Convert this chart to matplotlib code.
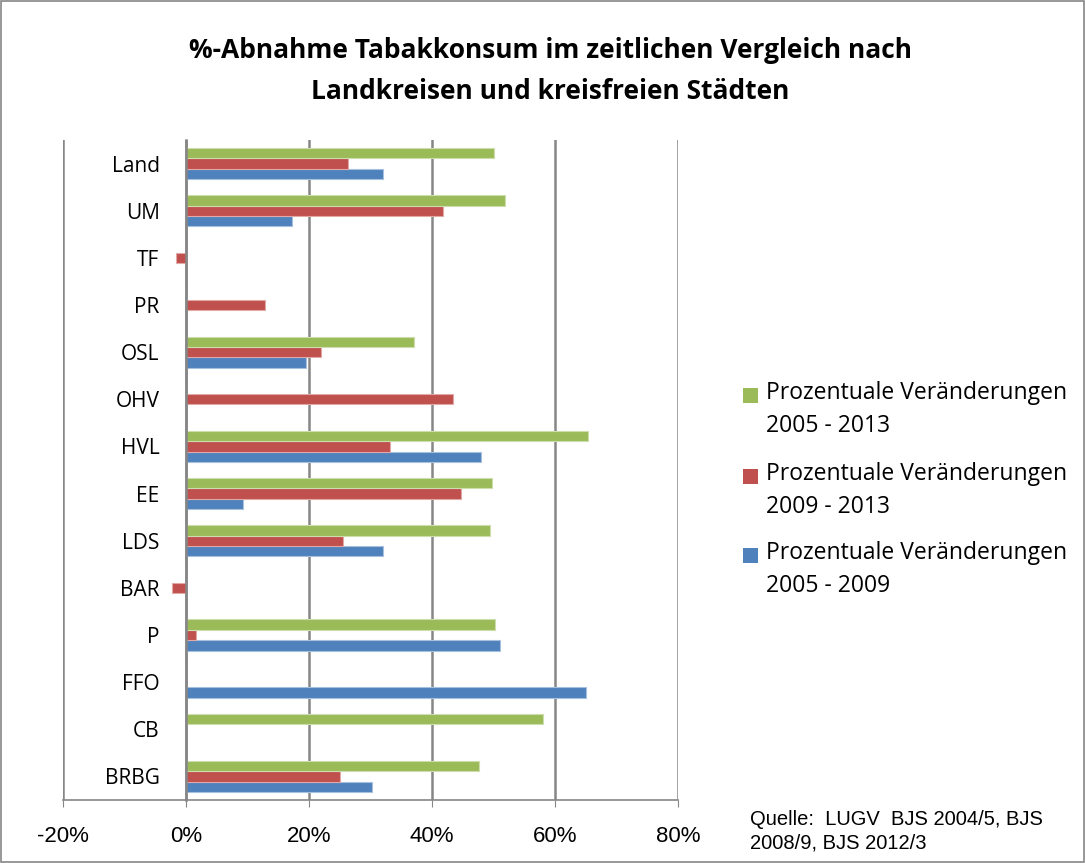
import numpy as np
import matplotlib
matplotlib.use("Agg")
from matplotlib import pyplot as plt
from matplotlib.patches import Rectangle
from matplotlib.ticker import FuncFormatter

# categories from bottom to top
regions = ["BRBG", "CB", "FFO", "P", "BAR", "LDS", "EE", "HVL", "OHV", "OSL", "PR", "TF", "UM", "Land"]

# percent change, NaN = no value
chg_05_09 = [30.2, np.nan, 65.1, 51.1, np.nan, 32.1, 9.2, 48.0, np.nan, 19.5, np.nan, np.nan, 17.3, 32.1]
chg_09_13 = [25.1, np.nan, np.nan, 1.6, -2.3, 25.5, 44.7, 33.2, 43.4, 21.9, 12.8, -1.7, 41.8, 26.3]
chg_05_13 = [47.7, 58.0, np.nan, 50.3, np.nan, 49.4, 49.8, 65.3, np.nan, 37.1, np.nan, np.nan, 51.9, 50.0]

labels = ["Prozentuale Veränderungen\n2005 - 2009",
          "Prozentuale Veränderungen\n2009 - 2013",
          "Prozentuale Veränderungen\n2005 - 2013"]
colors = ["#4F81BD", "#C0504D", "#9BBB59"]
edges = ["#A7C0DE", "#E0A8A6", "#CDDDAC"]

plt.rcParams['font.family'] = ['Open Sans', 'DejaVu Sans']

W, H = 1085, 863
fig = plt.figure(figsize=(W / 100, H / 100), dpi=100)
ax = fig.add_axes([63 / W, 1 - 800 / H, 615 / W, 660 / H])

y = np.arange(len(regions))
h = 0.22
for i, (vals, c, ec, lab) in enumerate(zip([chg_05_09, chg_09_13, chg_05_13], colors, edges, labels)):
    ax.barh(y + (i - 1) * h, np.nan_to_num(vals), height=h, color=c,
            edgecolor=ec, linewidth=0.8, label=lab, zorder=3)

ax.set_xlim(-20, 80)
ax.set_ylim(-0.5, len(regions) - 0.5)
ax.set_xticks(np.arange(-20, 81, 20))
ax.xaxis.set_major_formatter(FuncFormatter(lambda v, p: f"{v:.0f}%"))
ax.set_yticks(y)
ax.set_yticklabels(regions)

ax.grid(axis="x", color="#868686", linewidth=1.8, zorder=1)
for s in ["top", "right"]:
    ax.spines[s].set_visible(False)
ax.spines["left"].set_position(("data", 0))
ax.spines["left"].set_color("#868686")
ax.spines["left"].set_linewidth(1.8)
ax.spines["left"].set_zorder(4)
ax.spines["bottom"].set_color("#868686")
ax.spines["bottom"].set_linewidth(1.2)

ax.tick_params(axis="x", length=5, color="#868686", pad=14, labelsize=16)
for t in ax.get_xticklabels():
    t.set_family(["Liberation Sans", "DejaVu Sans"])
ax.tick_params(axis="y", length=0, pad=19, labelsize=15)

fig.text(0.507, 1 - 71 / H, "%-Abnahme Tabakkonsum im zeitlichen Vergleich nach\nLandkreisen und kreisfreien Städten",
         ha="center", va="center", fontsize=19, fontweight="bold", linespacing=1.65)

# legend, top entry = last series
handles, hl = ax.get_legend_handles_labels()
ytops = [388, 469, 548]
for (hnd, lab), yt in zip(list(zip(handles, hl))[::-1], ytops):
    fig.patches.append(Rectangle((743 / W, 1 - (yt + 15) / H), 15 / W, 15 / H,
                                 transform=fig.transFigure, facecolor=hnd.patches[0].get_facecolor(),
                                 edgecolor="none"))
    fig.text(766 / W, 1 - (yt - 7) / H, lab, ha="left", va="top", fontsize=16.5, linespacing=1.5)

fig.text(750 / W, 1 - 831 / H, "Quelle:  LUGV  BJS 2004/5, BJS\n2008/9, BJS 2012/3", ha="left", va="center",
         fontsize=14.5, family=["Liberation Sans", "DejaVu Sans"], linespacing=1.3)

fig.patches.append(Rectangle((0.001, 0.001), 0.998, 0.998, transform=fig.transFigure,
                             fill=False, edgecolor="#868686", linewidth=1.2))

fig.savefig("out.png", dpi=100)
